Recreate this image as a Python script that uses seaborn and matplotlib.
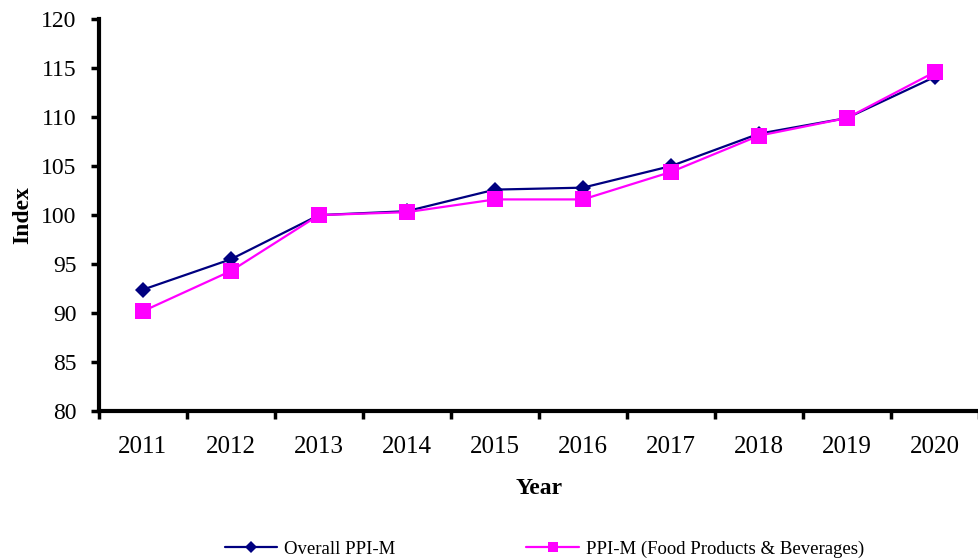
import matplotlib

matplotlib.use("Agg")
import matplotlib.pyplot as plt
import numpy as np
import pandas as pd
import seaborn as sns

years = ["2011", "2012", "2013", "2014", "2015", "2016", "2017", "2018", "2019", "2020"]
overall_ppi = [92.4, 95.5, 100.0, 100.4, 102.6, 102.8, 105.0, 108.3, 109.9, 114.1]
food_ppi = [90.2, 94.3, 100.0, 100.3, 101.6, 101.6, 104.4, 108.1, 109.9, 114.6]
series_names = ["Overall PPI-M", "PPI-M (Food Products & Beverages)"]

df = pd.DataFrame(
    {
        "Year": years * 2,
        "pos": list(range(len(years))) * 2,
        "Index": overall_ppi + food_ppi,
        "Series": [series_names[0]] * len(years) + [series_names[1]] * len(years),
    }
)

sns.set_style("white")
plt.rcParams["font.family"] = ["Liberation Serif", "DejaVu Serif"]
plt.rcParams["text.color"] = "black"
plt.rcParams["axes.labelcolor"] = "black"
plt.rcParams["xtick.color"] = "black"
plt.rcParams["ytick.color"] = "black"

fig = plt.figure(figsize=(9.79, 5.58), dpi=100)
ax = fig.add_axes([0.101, 0.263, 0.899, 0.703])

sns.lineplot(
    data=df,
    x="pos",
    y="Index",
    hue="Series",
    style="Series",
    markers={series_names[0]: "D", series_names[1]: "s"},
    dashes=False,
    palette={series_names[0]: "#000080", series_names[1]: "#FF00FF"},
    markersize=9,
    markeredgewidth=0,
    linewidth=1.6,
    ax=ax,
)
# bigger squares for the food series
for line in ax.get_lines():
    if line.get_marker() == "s":
        line.set_markersize(11)
    else:
        line.set_markersize(8.5)

ax.set_xlim(-0.5, len(years) - 0.5)
ax.set_ylim(80, 120)
ax.set_yticks(np.arange(80, 121, 5))
ax.set_xticks(np.arange(-0.5, len(years), 1.0))
ax.set_xticklabels([])
ax.set_xticks(np.arange(len(years)), minor=True)
ax.set_xticklabels(years, minor=True)

ax.tick_params(axis="y", which="major", direction="out", length=6, width=2.5,
               labelsize=17, left=True, pad=10)
ax.tick_params(axis="x", which="major", direction="out", length=6, width=2.5, bottom=True)
ax.tick_params(axis="x", which="minor", length=0, labelsize=18, pad=18)

for side in ["top", "right"]:
    ax.spines[side].set_visible(False)
for side in ["left", "bottom"]:
    ax.spines[side].set_linewidth(3)
    ax.spines[side].set_color("black")

ax.set_xlabel("Year", fontsize=17, fontweight="bold", labelpad=14)
ax.set_ylabel("Index", fontsize=17, fontweight="bold", labelpad=6)

handles, labels = ax.get_legend_handles_labels()
ax.get_legend().remove()
for h in handles:
    if h.get_marker() == "s":
        h.set_markersize(7.5)
    else:
        h.set_markersize(6.5)
fig.legend(
    handles,
    labels,
    loc="center",
    bbox_to_anchor=(0.556, 1 - 549 / 558),
    ncol=2,
    frameon=False,
    fontsize=13.5,
    handlelength=2.8,
    columnspacing=7,
    handletextpad=0.35,
)

fig.savefig("out.png", dpi=100)
